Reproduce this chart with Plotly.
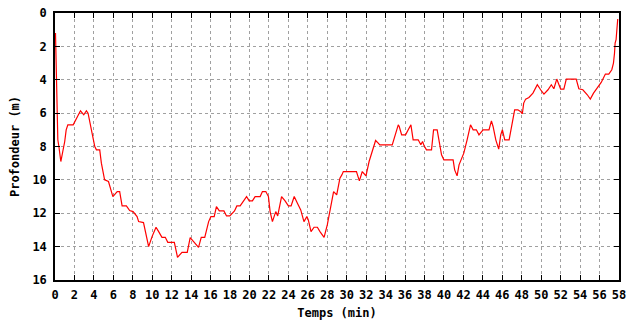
import plotly.graph_objects as go

temps_min = [0.05, 0.12, 0.18, 0.29, 0.4, 0.5, 0.6, 0.8, 1.0, 1.15, 1.32, 1.87, 2.2, 2.62, 2.96, 3.23, 3.4, 3.64, 3.85, 4.09,
             4.26, 4.6, 4.77, 4.95, 5.1, 5.5, 5.7, 5.95, 6.4, 6.65, 6.9, 7.34, 7.68, 8.03, 8.44, 8.6, 9.1, 9.36, 9.63, 9.98,
             10.39, 10.66, 11.0, 11.34, 11.6, 12.27, 12.6, 13.06, 13.6, 13.9, 14.3, 14.76, 15.04, 15.4, 15.8, 16.03, 16.37, 16.6, 16.9, 17.37,
             17.64, 17.98, 18.46, 18.7, 19.04, 19.56, 19.7, 19.97, 20.3, 20.58, 21.1, 21.33, 21.68, 21.95, 22.12, 22.36, 22.7, 22.9, 23.3, 23.66,
             24.0, 24.28, 24.6, 24.93, 25.27, 25.6, 25.9, 26.05, 26.33, 26.64, 26.98, 27.25, 27.67, 28.0, 28.46, 28.65, 28.97, 29.3, 29.5, 29.65,
             31.0, 31.3, 31.6, 31.98, 32.3, 32.6, 32.97, 33.24, 33.4, 34.68, 34.95, 35.3, 35.4, 35.65, 36.05, 36.6, 36.83, 37.35, 37.62, 37.8,
             37.96, 38.2, 38.72, 38.93, 39.3, 39.57, 39.75, 39.99, 40.94, 41.1, 41.35, 41.55, 41.8, 42.04, 42.38, 42.73, 43.0, 43.33, 43.6, 44.02,
             44.63, 44.88, 45.05, 45.33, 45.63, 45.84, 46.01, 46.25, 46.7, 46.94, 47.27, 47.6, 47.86, 48.06, 48.2, 48.4, 48.74, 49.15, 49.6, 49.94,
             50.28, 50.7, 51.04, 51.3, 51.6, 52.0, 52.33, 52.58, 53.6, 53.87, 54.28, 54.74, 55.05, 55.38, 55.76, 56.17, 56.6, 56.95, 57.26, 57.43,
             57.54, 57.6, 57.7, 57.8, 57.87]
profondeur_m = [1.2, 3.6, 6.0, 7.6, 8.0, 8.6, 8.9, 8.3, 7.7, 7.0, 6.7, 6.7, 6.3, 5.86, 6.1, 5.86, 6.0, 6.7, 7.5, 8.0,
                8.2, 8.2, 9.0, 9.6, 10.0, 10.1, 10.5, 11.0, 10.7, 10.7, 11.56, 11.56, 11.84, 11.9, 12.2, 12.5, 12.56, 13.2, 14.0, 13.4,
                12.84, 13.1, 13.44, 13.44, 13.74, 13.74, 14.64, 14.34, 14.34, 13.46, 13.7, 14.04, 13.44, 13.44, 12.5, 12.2, 12.2, 11.6, 11.86, 11.86,
                12.16, 12.16, 11.86, 11.56, 11.56, 11.1, 11.0, 11.26, 11.26, 11.0, 11.0, 10.7, 10.7, 11.0, 11.9, 12.5, 11.9, 12.16, 11.0, 11.26,
                11.56, 11.56, 11.0, 11.4, 11.8, 12.5, 12.2, 12.4, 13.1, 12.84, 12.84, 13.1, 13.44, 12.7, 11.3, 10.7, 10.9, 9.9, 9.7, 9.5,
                9.5, 10.06, 9.5, 9.76, 8.9, 8.3, 7.64, 7.8, 7.9, 7.9, 7.4, 6.7, 6.8, 7.3, 7.3, 6.7, 7.6, 7.6, 7.9, 7.7,
                7.96, 8.2, 8.2, 7.0, 7.0, 7.9, 8.5, 8.8, 8.8, 9.4, 9.76, 9.1, 8.7, 8.4, 7.6, 6.7, 7.0, 7.0, 7.3, 7.0,
                7.0, 6.46, 6.8, 7.6, 8.16, 7.3, 7.0, 7.6, 7.6, 6.8, 5.8, 5.8, 5.9, 6.04, 5.4, 5.16, 5.06, 4.8, 4.3, 4.6,
                4.86, 4.6, 4.3, 4.54, 3.96, 4.56, 4.56, 3.96, 3.96, 4.54, 4.6, 4.9, 5.16, 4.8, 4.46, 4.16, 3.66, 3.66, 3.4, 3.0,
                2.4, 1.8, 1.6, 1.0, 0.36]

x_ticks = list(range(0, 59, 2))
y_ticks = list(range(0, 17, 2))

font = dict(family="DejaVu Sans Mono", size=12, color="black", weight="bold")

fig = go.Figure()
fig.add_trace(go.Scatter(x=temps_min, y=profondeur_m, mode="lines",
                         line=dict(color="#ff0000", width=1.2), showlegend=False))

axis_common = dict(showline=True, linecolor="black", linewidth=1.5, mirror="ticks",
                   ticks="inside", ticklen=5, tickcolor="black", tickwidth=1,
                   showgrid=True, gridcolor="#a0a0a0", gridwidth=1, griddash="3px,3px",
                   zeroline=False, tickfont=font, automargin=False)

fig.update_xaxes(range=[0, 58], tickvals=x_ticks, ticktext=[str(v) for v in x_ticks],
                 ticklabelstandoff=3,
                 title=dict(text="Temps (min)", font=font, standoff=9), **axis_common)
fig.update_yaxes(range=[16, 0], tickvals=y_ticks, ticktext=[str(v) for v in y_ticks],
                 ticklabelstandoff=4,
                 title=dict(text="Profondeur (m)", font=font, standoff=10), **axis_common)

fig.update_layout(width=640, height=320, margin=dict(l=55, r=21, t=13, b=40),
                  paper_bgcolor="white", plot_bgcolor="white", font=font)

fig.write_html("out.html")
